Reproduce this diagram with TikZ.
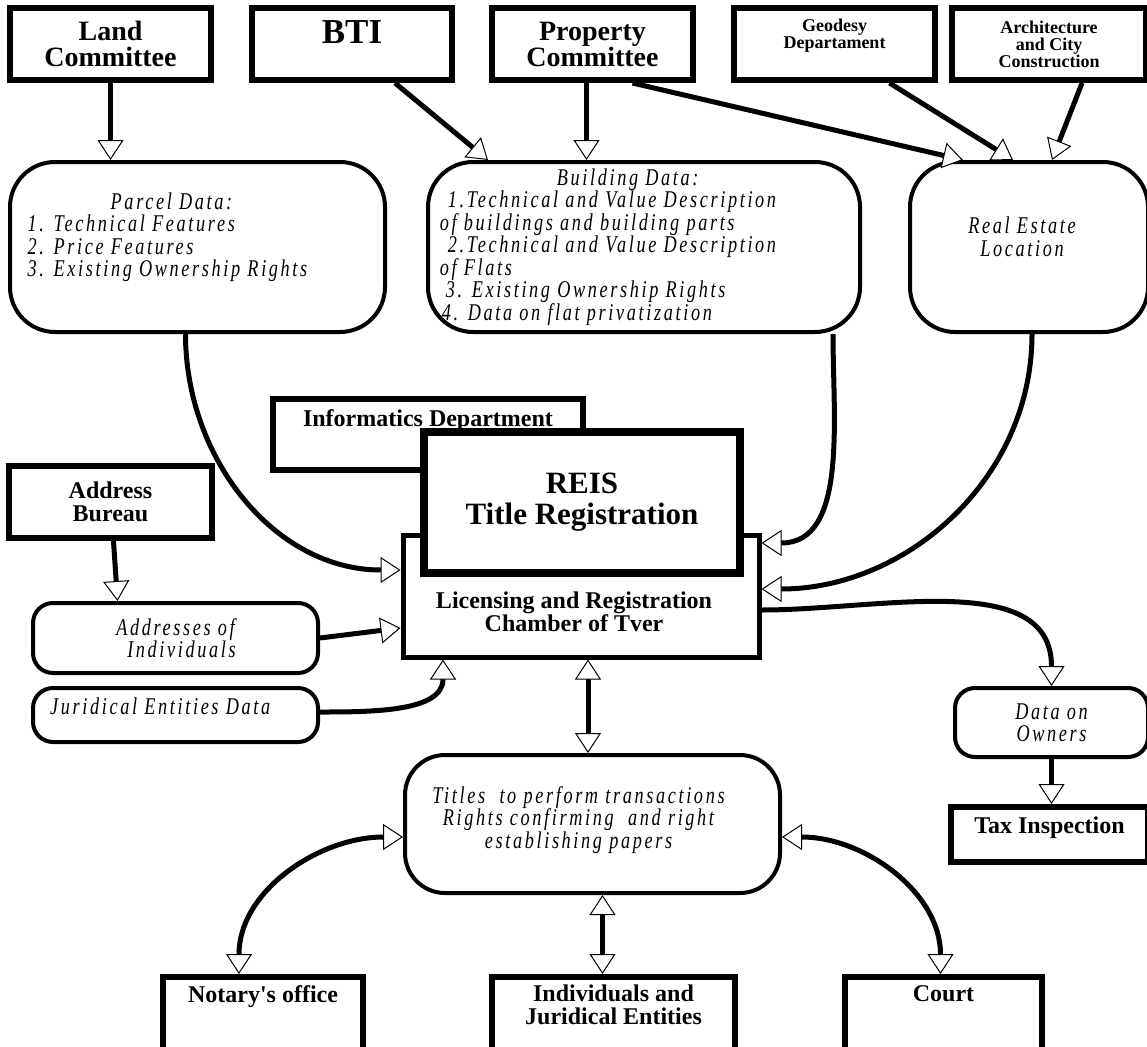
\documentclass[tikz,border=0pt]{standalone}
\usepackage{fontspec}
\setmainfont{Liberation Serif}
\newfontfamily\spacedit[FakeStretch=0.76,LetterSpace=11]{Liberation Serif}
\usetikzlibrary{arrows.meta}

\tikzset{
  dept/.style={draw, line width=6pt, fill=white, align=center, inner sep=0pt},
  datafld/.style={draw, line width=4pt, fill=white, rounded corners=#1, inner sep=0pt},
  datafld/.default=45pt,
  hd/.style={inner sep=0pt, anchor=north, align=center},
  itxt/.style={inner sep=0pt, align=left, font=\spacedit\itshape\fontsize{24}{22.5}\selectfont},
  bfhuge/.style={font=\bfseries\fontsize{28}{26}\selectfont},
  bfmid/.style={font=\bfseries\fontsize{24}{23}\selectfont},
  bfsmall/.style={font=\bfseries\fontsize{18}{16.5}\selectfont},
  tip/.tip={Triangle[length=20pt, width=26pt, fill=white, line width=1pt]},
  flow/.style={line width=5pt, -tip},
  flow2/.style={line width=5pt, tip-tip}
}

\begin{document}
\begin{tikzpicture}[x=1pt, y=-1pt]
\clip (0,0) rectangle (1147,1046);

% sources
\node[dept, bfhuge, minimum width=201pt, minimum height=72pt] (land) at (110.5,44) {Land\\Committee};
\node[dept, minimum width=200pt, minimum height=72pt,
  label={[hd, yshift=-15pt, font=\bfseries\fontsize{35}{35}\selectfont]north:BTI}] (bti) at (352,44) {};
\node[dept, bfhuge, minimum width=201pt, minimum height=72pt] (prop) at (592.5,44) {Property\\Committee};
\node[dept, minimum width=201pt, minimum height=72pt,
  label={[hd, yshift=-14pt, bfsmall]north:Geodesy\\Departament}] (geo) at (834.5,44) {};
\node[dept, font=\bfseries\fontsize{18}{17}\selectfont, minimum width=194pt, minimum height=72pt] (arch) at (1049,44) {Architecture\\and City\\Construction};

% data
\node[datafld, minimum width=375pt, minimum height=170pt,
  label={[itxt, xshift=-30pt, yshift=10pt]center:{\hspace*{83pt}Parcel Data:\\1. Technical Features\\2. Price Features\\3. Existing Ownership Rights}}] (parcel) at (197.5,247) {};
\node[datafld, minimum width=432pt, minimum height=170pt,
  label={[itxt, xshift=-36pt]center:{\hspace*{117pt}Building Data:\\\hspace*{8pt}1.Technical and Value Description\\of buildings and building parts\\\hspace*{8pt}2.Technical and Value Description\\of Flats\\\hspace*{6pt}3. Existing Ownership Rights\\\hspace*{2pt}4. Data on flat privatization}}] (building) at (644,247) {};
\node[datafld, minimum width=238pt, minimum height=170pt,
  label={[itxt, align=center, xshift=-7pt, yshift=10pt]center:{Real Estate\\Location}}] (realestate) at (1029,247) {};

% registration
\node[dept, minimum width=310pt, minimum height=71pt,
  label={[hd, yshift=-13pt, bfmid]north:Informatics Department}] (info) at (428,434.5) {};
\node[dept, line width=5pt, minimum width=356pt, minimum height=122pt,
  label={[hd, anchor=center, xshift=-7pt, yshift=-16pt, bfmid]center:{Licensing and Registration\\Chamber of Tver}}] (lic) at (581,596) {};
\node[dept, line width=8pt, minimum width=316pt, minimum height=141pt,
  font=\bfseries\fontsize{31}{31}\selectfont] (reis) at (582,502.5) {REIS\\Title Registration};

\node[dept, bfmid, minimum width=203pt, minimum height=72pt] (address) at (110.5,502) {Address\\Bureau};
\node[datafld=20pt, itxt, align=center, minimum width=285pt, minimum height=70pt] (addr) at (175.5,638) {Addresses of\\\hspace*{12pt}Individuals};
\node[datafld=20pt, minimum width=285pt, minimum height=54pt,
  label={[itxt, anchor=north west, xshift=19pt, yshift=-12pt]north west:Juridical Entities Data}] (jur) at (175.5,715) {};

\node[datafld=20pt, itxt, align=center, minimum width=193pt, minimum height=69pt] (owners) at (1051.5,722.5) {Data on\\Owners};
\node[dept, minimum width=197pt, minimum height=55pt,
  label={[hd, yshift=-13pt, bfmid]north:Tax Inspection}] (tax) at (1049.5,834.5) {};

\node[datafld=40pt, minimum width=375pt, minimum height=138pt,
  label={[itxt, align=center, xshift=-14pt, yshift=4pt]center:{Titles\ \ to perform transactions\\Rights confirming\ \ and right\\establishing papers}}] (titles) at (592.5,824) {};

\node[dept, minimum width=200pt, minimum height=90pt,
  label={[hd, yshift=-11pt, bfmid]north:Notary\textquotesingle s office}] (notary) at (263,1022) {};
\node[dept, minimum width=243pt, minimum height=90pt,
  label={[hd, yshift=-11pt, bfmid]north:Individuals and\\Juridical Entities}] (indiv) at (613.5,1022) {};
\node[dept, minimum width=197pt, minimum height=90pt,
  label={[hd, yshift=-11pt, bfmid]north:Court}] (court) at (943.5,1022) {};

% connectors
\draw[flow] (land.south) -- (land.south |- parcel.north);
\draw[flow] ([xshift=43pt]bti.south) -- ([xshift=-156pt]building.north);
\draw[flow] ([xshift=-6pt]prop.south) -- ([xshift=-6pt]prop.south |- building.north);
\draw[flow] ([xshift=40pt]prop.south) -- ([xshift=-66pt]realestate.north);
\draw[flow] ([xshift=55pt]geo.south) -- ([xshift=-16pt]realestate.north);
\draw[flow] ([xshift=33pt]arch.south) -- ([xshift=23pt]realestate.north);

\draw[flow] ([xshift=-12pt]parcel.south) to[out=-90, in=180] ([yshift=26pt]lic.west);
\draw[flow] ([xshift=189pt]building.south) to[out=-90, in=0] ([yshift=53pt]lic.east);
\draw[flow] ([xshift=3pt]realestate.south) to[out=-90, in=0] ([yshift=7pt]lic.east);
\draw[flow] ([yshift=-14pt]lic.east) to[out=0, in=90] (owners.north);
\draw[flow] (owners.south) -- (owners.south |- tax.north);

\draw[flow] ([xshift=3pt]address.south) -- ([xshift=-58pt]addr.north);
\draw[flow] (addr.east) -- ([yshift=-32pt]lic.west);
\draw[flow] ([yshift=3pt]jur.east) to[out=0, in=-90] ([xshift=-138pt]lic.south);

\draw[flow2] ([xshift=7pt]lic.south) -- ([xshift=7pt]lic.south |- titles.north);
\draw[flow2] ([yshift=-13pt]titles.west) to[out=180, in=90] ([xshift=-24pt]notary.north);
\draw[flow2] ([xshift=10pt]titles.south) -- ([xshift=10pt]titles.south |- indiv.north);
\draw[flow2] ([yshift=-13pt]titles.east) to[out=0, in=90] ([xshift=-3pt]court.north);
\end{tikzpicture}
\end{document}
